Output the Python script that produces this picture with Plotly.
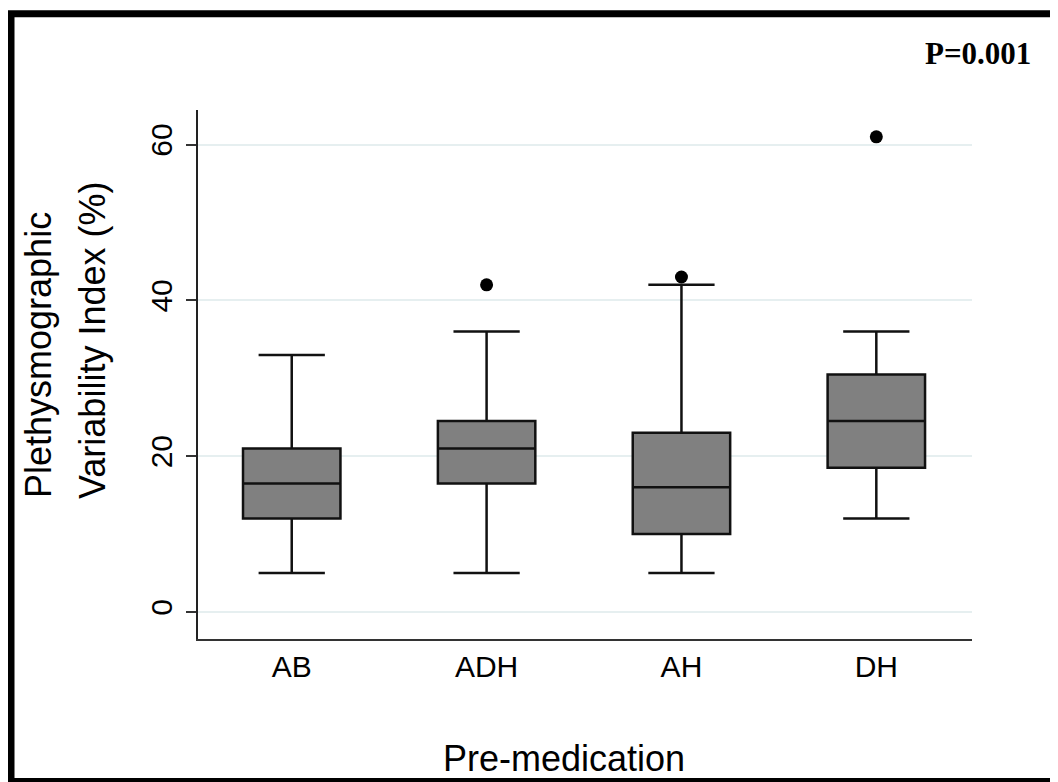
import plotly.graph_objects as go

# ---- data ----
categories = ["AB", "ADH", "AH", "DH"]
lower_whisker = [5, 5, 5, 12]
q1_values = [12, 16.5, 10, 18.5]
median_values = [16.5, 21, 16, 24.5]
q3_values = [21, 24.5, 23, 30.5]
upper_whisker = [33, 36, 42, 36]
outlier_groups = ["ADH", "AH", "DH"]
outlier_values = [42, 43, 61]
y_tick_values = [0, 20, 40, 60]
p_text = "P=0.001"

# page offset of the figure inside the browser body
OFF = 8
W, H = 1058 - OFF, 782 - OFF
L, R, T, B = 198 - OFF, 86, 110 - OFF, 143
PW, PH = W - L - R, H - T - B


def px(xp):
    return (xp - OFF - L) / PW


def py(yp):
    return (H - B - (yp - OFF)) / PH


fig = go.Figure()

fig.add_trace(go.Box(
    x=categories,
    q1=q1_values,
    median=median_values,
    q3=q3_values,
    lowerfence=lower_whisker,
    upperfence=upper_whisker,
    fillcolor="#808080",
    line=dict(color="#111111", width=2.5),
    width=0.5,
    whiskerwidth=0.68,
    boxpoints=False,
    showlegend=False,
    hoverinfo="skip",
))

fig.add_trace(go.Scatter(
    x=outlier_groups,
    y=outlier_values,
    mode="markers",
    marker=dict(color="black", size=13),
    showlegend=False,
    hoverinfo="skip",
))

font_sans = "Liberation Sans, Arial, sans-serif"

fig.update_layout(
    width=W, height=H,
    margin=dict(l=L, r=R, t=T, b=B, pad=0),
    paper_bgcolor="white",
    plot_bgcolor="white",
    font=dict(family=font_sans, color="black"),
    xaxis=dict(
        type="category",
        categoryorder="array",
        categoryarray=categories,
        range=[-0.481, 3.491],
        showline=True, linecolor="#333333", linewidth=2,
        showgrid=False, zeroline=False,
        ticks="",
        tickfont=dict(size=30, family=font_sans, color="black"),
        ticklabelstandoff=0,
    ),
    yaxis=dict(
        range=[-3.47, 64.44],
        tickvals=y_tick_values,
        ticktext=[str(v) for v in y_tick_values],
        tickangle=-90,
        showline=True, linecolor="#222222", linewidth=2,
        showgrid=True, gridcolor="#e6eff0", gridwidth=1.5,
        zeroline=False,
        ticks="outside", ticklen=10, tickwidth=2, tickcolor="#333333",
        tickfont=dict(size=30, family=font_sans, color="black"),
        ticklabelstandoff=2,
    ),
    shapes=[
        dict(type="rect", xref="paper", yref="paper",
             x0=px(11), x1=px(1075), y0=py(13.7), y1=py(781.5),
             line=dict(color="black", width=7), fillcolor="rgba(0,0,0,0)",
             layer="above"),
    ],
    annotations=[
        dict(text=p_text, xref="paper", yref="paper",
             x=px(978), y=py(53), xanchor="center", yanchor="middle",
             showarrow=False,
             font=dict(family="Liberation Serif, Times New Roman, serif",
                       size=31, color="black", weight="bold")),
        dict(text="Pre-medication", xref="paper", yref="paper",
             x=px(564), y=py(758), xanchor="center", yanchor="middle",
             showarrow=False,
             font=dict(family=font_sans, size=36, color="black")),
        dict(text="Plethysmographic", xref="paper", yref="paper",
             x=px(38), y=py(355), xanchor="center", yanchor="middle",
             textangle=-90, showarrow=False,
             font=dict(family=font_sans, size=36, color="black")),
        dict(text="Variability Index (%)", xref="paper", yref="paper",
             x=px(92), y=py(341), xanchor="center", yanchor="middle",
             textangle=-90, showarrow=False,
             font=dict(family=font_sans, size=36, color="black")),
    ],
)

fig.write_html("out.html")
